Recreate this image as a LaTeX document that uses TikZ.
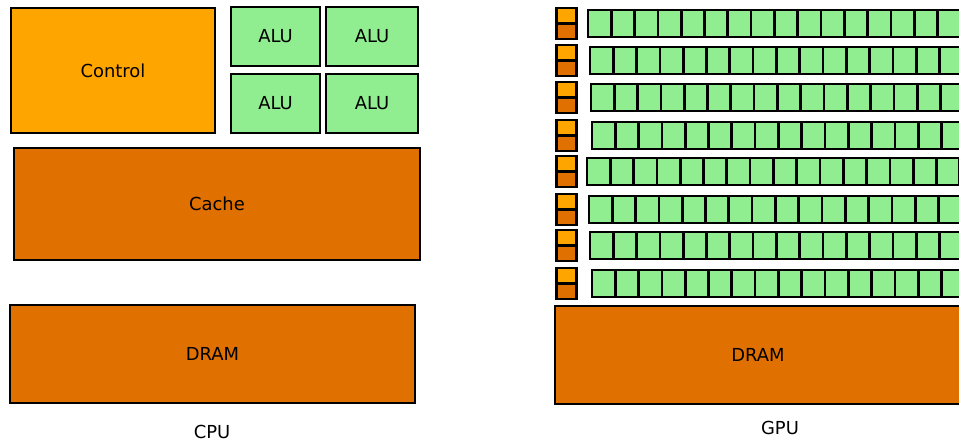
\documentclass[tikz,border=0pt]{standalone}
\usepackage{fontspec}
\setmainfont{DejaVu Sans}
\definecolor{ctlcol}{HTML}{FFA500}
\definecolor{cachecol}{HTML}{E07000}
\definecolor{alucol}{HTML}{90EE90}

\begin{document}
\begin{tikzpicture}[x=0.02cm, y=-0.02cm, font=\fontsize{10.2}{12}\selectfont,
    unit/.style={draw=black, line width=1.55pt, inner sep=0pt},
    ctlbox/.style={unit, fill=ctlcol},
    cachebox/.style={unit, fill=cachecol},
    alubox/.style={unit, fill=alucol, minimum width=1.78cm, minimum height=1.18cm},
    core/.style={unit, fill=alucol, minimum width=0.466cm, minimum height=0.54cm},
    gpuctl/.style={ctlbox, minimum width=0.4cm, minimum height=0.31cm},
    gpucache/.style={cachebox, minimum width=0.4cm, minimum height=0.31cm}]

    \useasboundingbox (0,0) rectangle (959,444);
    \clip (0,0) rectangle (959,444);

    % ── CPU ──────────────────────────────────────────────────────────────────
    \node[ctlbox, minimum width=4.08cm, minimum height=2.5cm] (ctl) at (113,70.5) {Control};

    \node[alubox] (alu-1) at (275.5,36.5) {ALU};
    \node[alubox, minimum width=1.84cm] (alu-2) at (372,36.5) {ALU};
    \node[alubox] (alu-3) at (275.5,103.5) {ALU};
    \node[alubox, minimum width=1.84cm] (alu-4) at (372,103.5) {ALU};

    \node[cachebox, minimum width=8.12cm, minimum height=2.24cm] (cache) at (217,204) {Cache};

    \node[cachebox, minimum width=8.1cm, minimum height=1.96cm] (cpudram) at (212.5,354) {DRAM};
    \node (cpulbl) at (212,432) {CPU};

    % ── GPU: eight rows, each a control/cache pair and a line of cores ───────
    \foreach \r/\y/\x in {1/10/588, 2/47/590, 3/84/591, 4/122/592,
                          5/158/587, 6/196/589, 7/232/590, 8/270/592} {
        \node[gpuctl] (gctl-\r) at (566.5,\y+5.75) {};
        \node[gpucache] (gcache-\r) at (566.5,\y+21.25) {};
        \foreach \c in {0,...,16}
            \node[core] (core-\r-\c) at (\x+\c*23.3+11.65,\y+13.5) {};
    }

    \node[cachebox, minimum width=8.12cm, minimum height=1.96cm] (gpudram) at (758,355) {DRAM};
    \node (gpulbl) at (780,428) {GPU};

\end{tikzpicture}
\end{document}
